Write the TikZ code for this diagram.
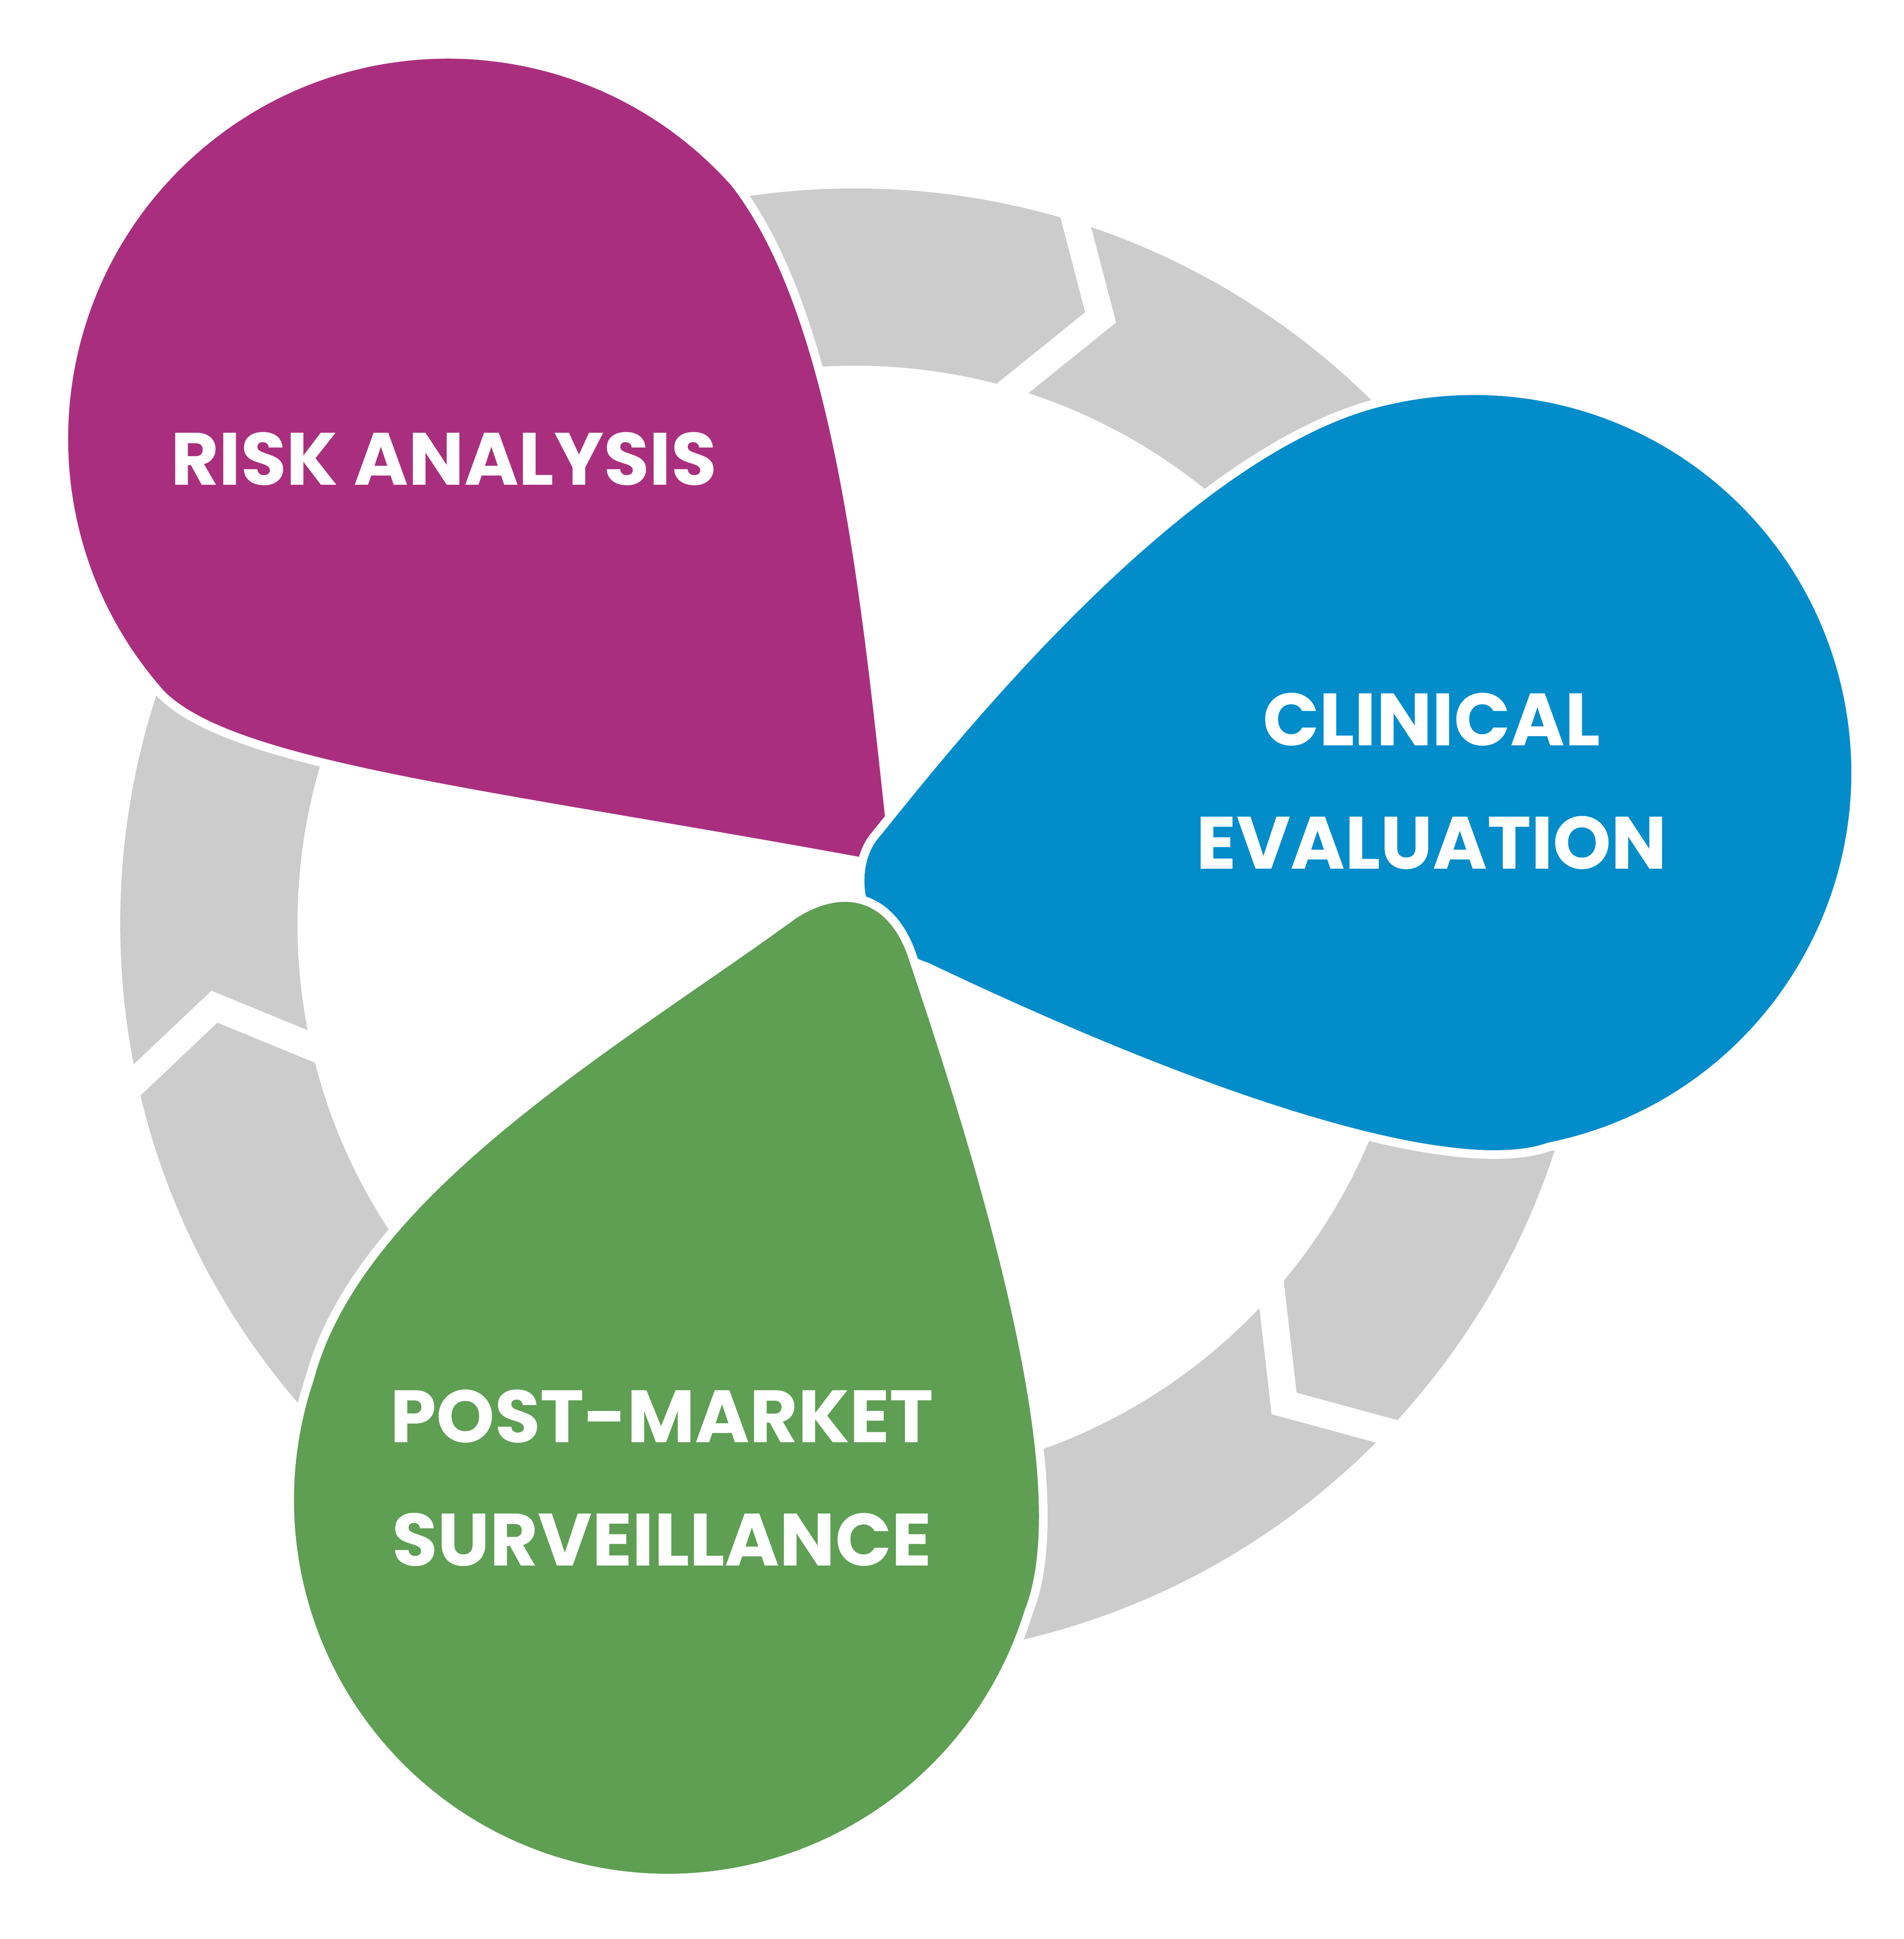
\documentclass[tikz,border=0pt]{standalone}
\usepackage{fontspec}
\setmainfont{Poppins}
\definecolor{ringgray}{HTML}{CCCCCC}
\definecolor{riskpurple}{HTML}{A92F7E}
\definecolor{clinblue}{HTML}{038CCA}
\definecolor{pmsgreen}{HTML}{5E9F53}
\tikzset{
  drop/.style={draw=white,line width=0.07cm,line join=round},
  cut/.style={draw=white,line width=0.22cm,line join=miter},
  label/.style={text=white,font=\fontsize{17}{24}\selectfont\bfseries,align=center}
}
\begin{document}
\begin{tikzpicture}[x=0.01cm,y=-0.01cm]
	\useasboundingbox (0,0) rectangle (1536,1564);
	
	%ring
	\fill[ringgray,even odd rule] (690,745) circle (593) (690,745) circle (450);
	\draw[cut] (855,130) -- (888,256) -- (790,335);
	\draw[cut] (1022,1010) -- (1036,1132) -- (1150,1163);
	\draw[cut] (80,900) -- (173,812) -- (290,860);
	
	%drops
	\draw[drop,fill=riskpurple] (130,560) arc[start angle=138.3,end angle=318.3,radius=310]
	  .. controls (680,260) and (700,500) .. (722,700)
	  .. controls (400,640) and (190,620) .. cycle;
	\draw[drop,fill=clinblue] (1250,925) arc[start angle=78.6,end angle=-103.1,radius=308]
	  .. controls (950,360) and (750,620) .. (705,675)
	  .. controls (685,700) and (688,760) .. (748,780)
	  .. controls (1000,900) and (1180,950) .. cycle;
	\draw[drop,fill=pmsgreen] (830,1300) arc[start angle=17.2,end angle=198.7,radius=305]
	  .. controls (290,960) and (500,840) .. (640,738)
	  .. controls (680,712) and (718,722) .. (735,768)
	  .. controls (800,960) and (870,1200) .. cycle;
	
	%labels
	\node[label] (risk) at (358,370) {RISK ANALYSIS};
	\node[label] (clin) at (1155,630) {CLINICAL\\[0.15cm]EVALUATION};
	\node[label] (pms) at (534,1192) {POST-MARKET\\[0.15cm]SURVEILLANCE};
\end{tikzpicture}
\end{document}
